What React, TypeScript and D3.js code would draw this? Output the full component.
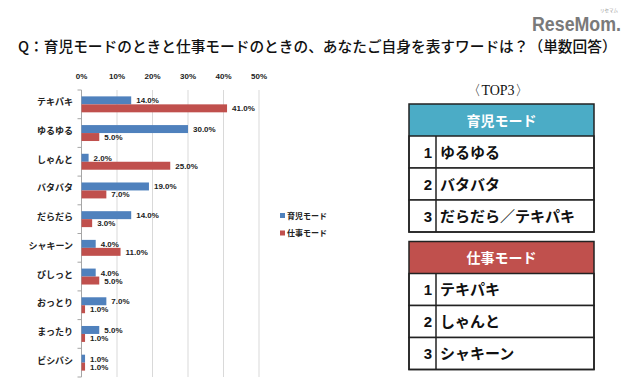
import React from "react";
import * as d3 from "d3";

const categories = ["テキパキ", "ゆるゆる", "しゃんと", "バタバタ", "だらだら", "シャキーン", "ぴしっと", "おっとり", "まったり", "ビシバシ"];
const childcareValues = [14, 30, 2, 19, 14, 4, 4, 7, 5, 1];
const workValues = [41, 5, 25, 7, 3, 11, 5, 1, 1, 1];
const seriesNames = ["育児モード", "仕事モード"];
const xTicks = [0, 10, 20, 30, 40, 50];
const childcareTop3 = ["ゆるゆる", "バタバタ", "だらだら／テキパキ"];
const workTop3 = ["テキパキ", "しゃんと", "シャキーン"];

const BLUE = "#4F81BD";
const RED = "#C0504D";
const TEAL = "#4BACC6";
const JP = "'Noto Sans CJK JP', 'Noto Sans', sans-serif";
const LAT = "'Liberation Sans', Arial, sans-serif";

function Table({ x, y, title, color, rows }: { x: number; y: number; title: string; color: string; rows: string[] }) {
  const w = 185;
  const hh = 32;
  const rh = 32;
  const numW = 27;
  const rowScale = d3.scaleBand<number>().domain(rows.map((_, i) => i)).range([y + hh, y + hh + rh * rows.length]);
  return (
    <g>
      <rect x={x} y={y} width={w} height={hh} fill={color} />
      <text x={x + w / 2} y={y + hh / 2 + 5.5} textAnchor="middle" fill="#fff" fontFamily={JP} fontWeight={700} fontSize={14}>
        {title}
      </text>
      {rows.map((r, i) => {
        const ry = rowScale(i)!;
        return (
          <g key={i}>
            <rect x={x} y={ry} width={w} height={rh} fill="#fff" stroke="#222" strokeWidth={1.5} />
            <line x1={x + numW} x2={x + numW} y1={ry} y2={ry + rh} stroke="#222" strokeWidth={1.5} />
            <text x={x + numW - 4} y={ry + rh / 2 + 5.5} textAnchor="end" fontFamily={LAT} fontWeight={700} fontSize={15} fill="#111">
              {i + 1}
            </text>
            <text x={x + numW + 4} y={ry + rh / 2 + 5.5} fontFamily={JP} fontWeight={700} fontSize={15} fill="#111">
              {r}
            </text>
          </g>
        );
      })}
      <rect x={x} y={y} width={w} height={hh + rh * rows.length} fill="none" stroke="#222" strokeWidth={1.5} />
    </g>
  );
}

export default function App() {
  const x = d3.scaleLinear().domain([0, 50]).range([81.5, 259]);
  const y = d3.scaleBand<string>().domain(categories).range([90, 377]);
  const inner = d3.scaleBand<number>().domain([0, 1]).range([0, y.bandwidth()]).paddingInner(0).paddingOuter(0.8);
  const barH = inner.bandwidth();
  return (
    <svg width={640} height={389} style={{ position: "absolute", left: 0, top: 0, background: "#fff" }}>
      <rect x={0} y={0} width={640} height={389} fill="#fff" />
      {/* logo */}
      <text x={532} y={31} fontFamily={LAT} fontWeight={700} fontSize={20} fill="#7a7a7a" textLength={89} lengthAdjust="spacingAndGlyphs">
        ReseMom.
      </text>
      <text x={618} y={12} textAnchor="end" fontFamily={JP} fontSize={4.5} fill="#999">
        リセマム
      </text>
      {/* title */}
      <text x={18} y={51.5} fontFamily={JP} fontWeight={500} fontSize={14.7} fill="#111">
        Q：育児モードのときと仕事モードのときの、あなたご自身を表すワードは？（単数回答）
      </text>
      {/* gridlines */}
      {xTicks.map((t) => (
        <g key={t}>
          {t > 0 && <line x1={x(t)} x2={x(t)} y1={90} y2={377} stroke="#d9d9d9" strokeWidth={1} />}
          <text x={x(t)} y={79} textAnchor="middle" fontFamily={LAT} fontWeight={700} fontSize={8} fill="#222">
            {t}%
          </text>
        </g>
      ))}
      {/* axis */}
      <line x1={x(0)} x2={x(0)} y1={90} y2={377} stroke="#a6a6a6" strokeWidth={1} />
      {[...categories.map((c) => y(c)!), 377].map((ty, i) => (
        <line key={i} x1={x(0) - 4} x2={x(0)} y1={ty} y2={ty} stroke="#a6a6a6" strokeWidth={1} />
      ))}
      {categories.map((c, i) => {
        const by = y(c)!;
        const vals = [childcareValues[i], workValues[i]];
        return (
          <g key={c}>
            <text x={73} y={by + y.bandwidth() / 2 + 1} textAnchor="end" fontFamily={JP} fontWeight={700} fontSize={9} fill="#222">
              {c}
            </text>
            {vals.map((v, j) => {
              const yy = by + inner(j)!;
              return (
                <g key={j}>
                  <rect x={x(0)} y={yy} width={x(v) - x(0)} height={barH} fill={j === 0 ? BLUE : RED} />
                  <text x={x(v) + 5} y={yy + barH / 2 + 3} fontFamily={LAT} fontWeight={700} fontSize={8} fill="#222">
                    {v.toFixed(1)}%
                  </text>
                </g>
              );
            })}
          </g>
        );
      })}
      {/* legend */}
      {seriesNames.map((s, i) => (
        <g key={s}>
          <rect x={280} y={213 + i * 17.5} width={5} height={5} fill={i === 0 ? BLUE : RED} />
          <text x={287} y={218.5 + i * 17.5} fontFamily={JP} fontWeight={700} fontSize={8} fill="#222">
            {s}
          </text>
        </g>
      ))}
      {/* TOP3 */}
      <text x={498} y={95} textAnchor="middle" fontFamily="'Liberation Serif', serif" fontSize={14} fill="#111">
        〈TOP3〉
      </text>
      <Table x={409} y={104} title={seriesNames[0]} color={TEAL} rows={childcareTop3} />
      <Table x={409} y={241.5} title={seriesNames[1]} color={RED} rows={workTop3} />
    </svg>
  );
}
